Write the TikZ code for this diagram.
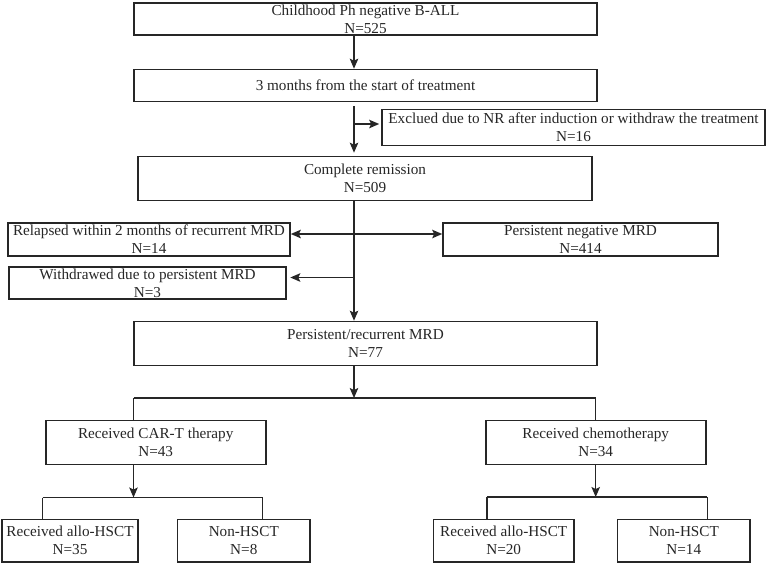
\documentclass[tikz,border=0pt]{standalone}
\usepackage{fontspec}
\setmainfont{Liberation Serif}
\usetikzlibrary{arrows.meta}
\tikzset{
  box/.style={draw=black!85, line width=1.6pt, inner sep=0pt, align=center,
    font=\fontsize{15.2}{18}\selectfont, text=black!85},
  arr/.style={draw=black!85, line width=1.4pt, -{Stealth[length=10pt,width=8.5pt,inset=2pt]}},
  ln/.style={draw=black!85, line width=1.4pt}
}
\newcommand{\bx}[6]{\node[box, minimum width=#4pt, minimum height=#5pt] (#1) at (#2,#3) {#6};}
\begin{document}
\begin{tikzpicture}[x=1pt,y=-1pt]
\useasboundingbox (0,0) rectangle (767,566);
\bx{b1}{365.5}{19}{463}{32}{Childhood Ph negative B-ALL\\N=525}
\bx{b2}{365.5}{85.5}{463}{32}{3 months from the start of treatment}
\bx{ex}{573.5}{127.5}{383}{36}{Exclued due to NR after induction or withdraw the treatment\\N=16}
\bx{b3}{365}{178.5}{454}{44}{Complete remission\\N=509}
\bx{rel}{149}{239.5}{282}{33}{Relapsed within 2 months of recurrent MRD\\N=14}
\bx{neg}{580.5}{239.5}{275}{33}{Persistent negative MRD\\N=414}
\bx{wd}{147.5}{283}{277}{32}{Withdrawed due to persistent MRD\\N=3}
\bx{b4}{365.5}{343.5}{463}{44}{Persistent/recurrent MRD\\N=77}
\bx{cart}{155.7}{442.5}{220}{44}{Received CAR-T therapy\\N=43}
\bx{chemo}{595.7}{442.5}{220}{44}{Received chemotherapy\\N=34}
\bx{a1}{70}{540.5}{136.5}{42.4}{Received allo-HSCT\\N=35}
\bx{n1}{243.8}{540.5}{132.3}{42.4}{Non-HSCT\\N=8}
\bx{a2}{503.7}{540.5}{140.7}{42.4}{Received allo-HSCT\\N=20}
\bx{n2}{683.8}{540.5}{132.3}{42.4}{Non-HSCT\\N=14}
% helper coordinates
\coordinate (m) at (354,0);
\coordinate (f1) at (354,398);
\coordinate (f1l) at (133.5,398);
\coordinate (f1r) at (595.7,398);
\coordinate (f2) at (133.5,497.5);
\coordinate (f2l) at (42.5,497.5);
\coordinate (f2r) at (262.5,497.5);
\coordinate (f3) at (595.7,497);
\coordinate (f3l) at (486.8,497);
\coordinate (f3r) at (707.3,497);
% connectors
\draw[arr] (b1.south -| m) -- (b2.north -| m);
\draw[arr, shorten <=3.5pt, shorten >=3pt] (b2.south -| m) -- (b3.north -| m);
\draw[arr, shorten >=2pt] ([yshift=3.5pt]ex.west -| m) -- ([yshift=3.5pt]ex.west);
\draw[arr] ([yshift=5.5pt]rel.east -| m) -- ([yshift=5.5pt]rel.east);
\draw[arr] ([yshift=5.5pt]neg.west -| m) -- ([yshift=5.5pt]neg.west);
\draw[arr, shorten >=3.5pt] ([yshift=5.5pt]wd.east -| m) -- ([yshift=5.5pt]wd.east);
\draw[arr] (b3.south -| m) -- (b4.north -| m);
\draw[arr] (b4.south -| m) -- (f1);
\draw[ln] (f1l) -- (f1r);
\draw[ln] (f1l) -- (cart.north -| f1l);
\draw[ln] (f1r) -- (chemo.north -| f1r);
\draw[arr] (cart.south -| f2) -- (f2);
\draw[ln] (f2l) -- (f2r);
\draw[ln] (f2l) -- (a1.north -| f2l);
\draw[ln] (f2r) -- (n1.north -| f2r);
\draw[arr] (chemo.south -| f3) -- (f3);
\draw[ln] (f3l) -- (f3r);
\draw[ln] (f3l) -- (a2.north -| f3l);
\draw[ln] (f3r) -- (n2.north -| f3r);
\end{tikzpicture}
\end{document}
